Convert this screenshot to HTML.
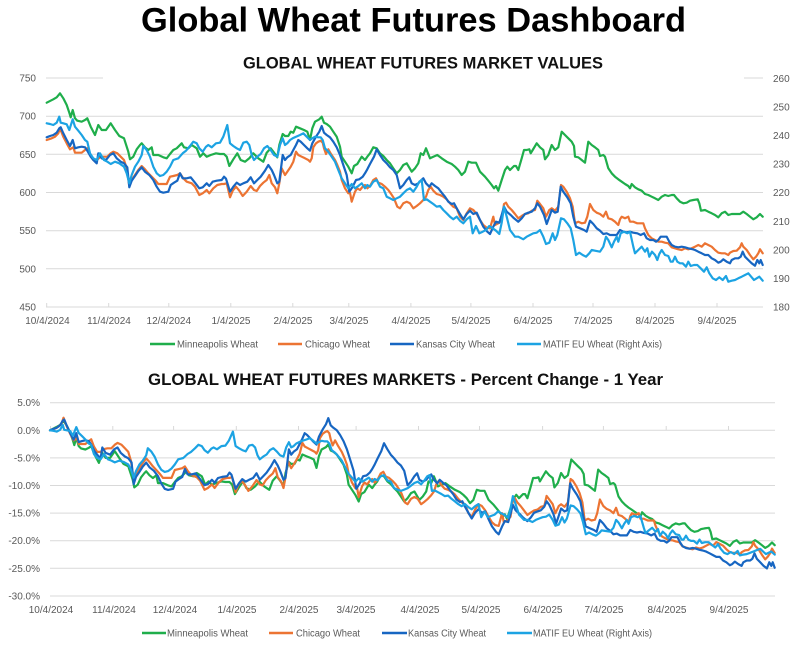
<!DOCTYPE html>
<html>
<head>
<meta charset="utf-8">
<style>
html,body{margin:0;padding:0;background:#fff;}
svg{display:block;}
text{font-family:"Liberation Sans",Arial,sans-serif;}
.ax{font-size:10px;fill:#595959;}
.lg{font-size:10px;fill:#595959;}
.grid{stroke:#d9d9d9;stroke-width:1;}
</style>
</head>
<body>
<svg width="812" height="646" viewBox="0 0 812 646">
<rect x="0" y="0" width="812" height="646" fill="#fff"/>

<!-- Main title -->
<text x="141" y="31.5" font-size="34.5" font-weight="bold" fill="#000" textLength="545" lengthAdjust="spacingAndGlyphs">Global Wheat Futures Dashboard</text>

<!-- ===== TOP CHART ===== -->
<g class="grid">
<line x1="46" y1="78" x2="763" y2="78"/>
<line x1="46" y1="116.2" x2="763" y2="116.2"/>
<line x1="46" y1="154.3" x2="763" y2="154.3"/>
<line x1="46" y1="192.5" x2="763" y2="192.5"/>
<line x1="46" y1="230.7" x2="763" y2="230.7"/>
<line x1="46" y1="268.8" x2="763" y2="268.8"/>
<line x1="46" y1="307" x2="763" y2="307"/>
</g>
<rect x="103" y="72" width="641" height="10" fill="#fff"/>
<text x="243" y="68.5" font-size="16.3" font-weight="bold" fill="#111" textLength="360" lengthAdjust="spacingAndGlyphs">GLOBAL WHEAT FUTURES MARKET VALUES</text>

<g stroke="#d9d9d9" stroke-width="1">
<line x1="46.7" y1="303" x2="46.7" y2="307"/>
<line x1="108.7" y1="303" x2="108.7" y2="307"/>
<line x1="168.8" y1="303" x2="168.8" y2="307"/>
<line x1="230.8" y1="303" x2="230.8" y2="307"/>
<line x1="292.8" y1="303" x2="292.8" y2="307"/>
<line x1="348.8" y1="303" x2="348.8" y2="307"/>
<line x1="410.9" y1="303" x2="410.9" y2="307"/>
<line x1="470.9" y1="303" x2="470.9" y2="307"/>
<line x1="533" y1="303" x2="533" y2="307"/>
<line x1="593" y1="303" x2="593" y2="307"/>
<line x1="655" y1="303" x2="655" y2="307"/>
<line x1="717" y1="303" x2="717" y2="307"/>
</g>

<g class="ax" text-anchor="end">
<text x="36" y="81.5">750</text>
<text x="36" y="119.7">700</text>
<text x="36" y="157.8">650</text>
<text x="36" y="196">600</text>
<text x="36" y="234.2">550</text>
<text x="36" y="272.3">500</text>
<text x="36" y="310.5">450</text>
</g>
<g class="ax" text-anchor="start">
<text x="773" y="81.8">260</text>
<text x="773" y="110.4">250</text>
<text x="773" y="139">240</text>
<text x="773" y="167.6">230</text>
<text x="773" y="196.2">220</text>
<text x="773" y="224.8">210</text>
<text x="773" y="253.4">200</text>
<text x="773" y="282">190</text>
<text x="773" y="310.6">180</text>
</g>
<g class="ax" text-anchor="middle">
<text x="47.5" y="324">10/4/2024</text>
<text x="109" y="324">11/4/2024</text>
<text x="168.8" y="324">12/4/2024</text>
<text x="231" y="324">1/4/2025</text>
<text x="293" y="324">2/4/2025</text>
<text x="349" y="324">3/4/2025</text>
<text x="411" y="324">4/4/2025</text>
<text x="471" y="324">5/4/2025</text>
<text x="533" y="324">6/4/2025</text>
<text x="593" y="324">7/4/2025</text>
<text x="655" y="324">8/4/2025</text>
<text x="717" y="324">9/4/2025</text>
</g>

<g id="gTop" fill="none" stroke-width="2.2" stroke-linejoin="round" stroke-linecap="round"></g>

<!-- top legend -->
<g stroke-width="2.4">
<line x1="150" y1="344" x2="175" y2="344" stroke="#1fae4b"/>
<line x1="278" y1="344" x2="302" y2="344" stroke="#ec7433"/>
<line x1="390" y1="344" x2="414" y2="344" stroke="#1766c2"/>
<line x1="517" y1="344" x2="541" y2="344" stroke="#1ca3e3"/>
</g>
<g class="lg">
<text x="177" y="347.5" textLength="81" lengthAdjust="spacingAndGlyphs">Minneapolis Wheat</text>
<text x="305" y="347.5" textLength="65" lengthAdjust="spacingAndGlyphs">Chicago Wheat</text>
<text x="416" y="347.5" textLength="79" lengthAdjust="spacingAndGlyphs">Kansas City Wheat</text>
<text x="543" y="347.5" textLength="119" lengthAdjust="spacingAndGlyphs">MATIF EU Wheat (Right Axis)</text>
</g>

<!-- ===== BOTTOM CHART ===== -->
<text x="148" y="385" font-size="16.3" font-weight="bold" fill="#111" textLength="515" lengthAdjust="spacingAndGlyphs">GLOBAL WHEAT FUTURES MARKETS - Percent Change - 1 Year</text>
<g class="grid">
<line x1="50" y1="402.7" x2="775" y2="402.7"/>
<line x1="50" y1="430.3" x2="775" y2="430.3"/>
<line x1="50" y1="457.9" x2="775" y2="457.9"/>
<line x1="50" y1="485.5" x2="775" y2="485.5"/>
<line x1="50" y1="513.1" x2="775" y2="513.1"/>
<line x1="50" y1="540.7" x2="775" y2="540.7"/>
<line x1="50" y1="568.3" x2="775" y2="568.3"/>
<line x1="50" y1="596" x2="775" y2="596"/>
</g>
<g stroke="#d9d9d9" stroke-width="1">
<line x1="50.5" y1="426" x2="50.5" y2="430.3"/>
<line x1="112.8" y1="426" x2="112.8" y2="430.3"/>
<line x1="173.6" y1="426" x2="173.6" y2="430.3"/>
<line x1="236.3" y1="426" x2="236.3" y2="430.3"/>
<line x1="298.5" y1="426" x2="298.5" y2="430.3"/>
<line x1="356.1" y1="426" x2="356.1" y2="430.3"/>
<line x1="418.5" y1="426" x2="418.5" y2="430.3"/>
<line x1="479.5" y1="426" x2="479.5" y2="430.3"/>
<line x1="542.6" y1="426" x2="542.6" y2="430.3"/>
<line x1="603.4" y1="426" x2="603.4" y2="430.3"/>
<line x1="666.2" y1="426" x2="666.2" y2="430.3"/>
<line x1="728.5" y1="426" x2="728.5" y2="430.3"/>
</g>
<g class="ax" text-anchor="end">
<text x="40" y="406.2">5.0%</text>
<text x="40" y="433.8">0.0%</text>
<text x="40" y="461.4">-5.0%</text>
<text x="40" y="489">-10.0%</text>
<text x="40" y="516.6">-15.0%</text>
<text x="40" y="544.2">-20.0%</text>
<text x="40" y="571.8">-25.0%</text>
<text x="40" y="599.5">-30.0%</text>
</g>
<g class="ax" text-anchor="middle">
<text x="51" y="613">10/4/2024</text>
<text x="114" y="613">11/4/2024</text>
<text x="175" y="613">12/4/2024</text>
<text x="237" y="613">1/4/2025</text>
<text x="299" y="613">2/4/2025</text>
<text x="356" y="613">3/4/2025</text>
<text x="420" y="613">4/4/2025</text>
<text x="481" y="613">5/4/2025</text>
<text x="543" y="613">6/4/2025</text>
<text x="604" y="613">7/4/2025</text>
<text x="667" y="613">8/4/2025</text>
<text x="729" y="613">9/4/2025</text>
</g>

<g id="gBot" fill="none" stroke-width="2.2" stroke-linejoin="round" stroke-linecap="round"></g>

<!-- bottom legend -->
<g stroke-width="2.4">
<line x1="142" y1="633" x2="166" y2="633" stroke="#1fae4b"/>
<line x1="269" y1="633" x2="293" y2="633" stroke="#ec7433"/>
<line x1="382" y1="633" x2="407" y2="633" stroke="#1766c2"/>
<line x1="507" y1="633" x2="532" y2="633" stroke="#1ca3e3"/>
</g>
<g class="lg">
<text x="167" y="636.5" textLength="81" lengthAdjust="spacingAndGlyphs">Minneapolis Wheat</text>
<text x="296" y="636.5" textLength="64" lengthAdjust="spacingAndGlyphs">Chicago Wheat</text>
<text x="408" y="636.5" textLength="78" lengthAdjust="spacingAndGlyphs">Kansas City Wheat</text>
<text x="533" y="636.5" textLength="119" lengthAdjust="spacingAndGlyphs">MATIF EU Wheat (Right Axis)</text>
</g>
</svg>

<script>
var G1=[[140,128],[160,118],[170,112],[180,100],[190,115],[200,135],[208,158],[212,172],[218,150],[225,175],[232,182],[245,185],[255,180],[262,175],[272,200],[285,225],[295,195],[305,210],[318,210],[332,190],[345,210],[358,228],[372,235],[385,275],[390,298],[400,290],[410,268],[420,255],[425,250],[435,262],[445,270],[455,262],[460,285],[475,285],[490,292],[500,295],[510,282],[520,270],[530,265],[545,250],[552,262],[565,265],[575,255],[590,265],[600,290],[610,280],[620,290],[632,285],[648,280],[660,282],[672,282],[680,290],[688,318],[700,298],[712,280],[722,300],[735,305],[748,295],[760,280],[775,295],[790,305],[800,278],[812,265],[820,275],[832,292],[838,255],[848,222],[855,228],[865,228],[872,215],[880,218],[888,200],[900,205],[912,210],[922,215],[930,240],[937,205],[945,185],[958,178],[965,170],[972,188],[980,192],[990,200],[1000,215],[1010,230],[1020,260],[1025,290],[1035,305],[1045,320],[1055,340],[1062,318],[1072,312],[1085,290],[1095,300],[1102,290],[1110,280],[1120,262],[1130,265],[1140,280],[1150,288],[1160,300],[1170,310],[1180,325],[1190,340],[1200,330]];
var G2=[[10,315],[20,310],[35,335],[45,325],[55,310],[62,280],[70,285],[78,265],[90,295],[100,290],[112,285],[125,295],[140,305],[155,312],[165,320],[175,330],[185,345],[195,335],[205,305],[215,308],[228,308],[240,335],[255,350],[265,362],[275,375],[282,385],[288,378],[295,392],[305,360],[315,330],[322,320],[330,330],[342,318],[348,318],[355,330],[365,295],[372,270],[380,270],[388,268],[392,280],[398,270],[410,250],[420,262],[430,270],[435,298],[445,285],[455,255],[465,270],[475,262],[485,215],[495,225],[505,235],[515,245],[522,258],[525,290],[535,292],[545,300],[555,308],[565,245],[575,255],[585,262],[595,270],[600,288],[610,285],[615,290],[625,325],[635,340],[645,350],[655,358],[665,365],[675,372],[685,378],[690,385],[695,372],[705,382],[715,388],[725,392],[735,402],[745,405],[755,410],[765,415],[775,420],[785,410],[795,405],[805,408],[815,405],[822,405],[830,415],[840,425],[850,430],[860,428],[870,422],[880,420],[893,418],[898,430],[903,452],[915,450],[925,455],[935,460],[945,465],[955,472],[965,460],[975,455],[985,465],[995,462],[1010,462],[1020,462],[1030,455],[1040,462],[1050,470],[1060,478],[1070,472],[1080,462],[1088,470]];
var O1=[[140,240],[155,235],[165,230],[175,220],[180,205],[190,230],[200,250],[210,268],[220,262],[225,278],[235,278],[245,278],[255,270],[262,265],[270,285],[280,300],[290,300],[300,292],[310,290],[322,290],[332,280],[340,275],[352,280],[362,290],[372,300],[380,325],[388,378],[395,360],[405,345],[415,330],[425,318],[435,328],[445,340],[455,350],[465,360],[475,372],[485,372],[500,372],[510,350],[520,348],[532,345],[540,340],[550,355],[560,365],[575,370],[585,380],[598,405],[608,400],[620,390],[628,400],[640,385],[652,375],[665,372],[672,372],[680,370],[690,412],[698,392],[708,380],[718,392],[728,408],[740,395],[752,378],[762,390],[770,393],[780,378],[790,368],[800,360],[808,345],[815,370],[825,382],[832,400],[838,370],[845,325],[855,345],[862,335],[872,320],[880,305],[888,275],[895,285],[905,290],[915,295],[925,300],[930,305],[935,295],[940,262],[948,250],[955,245],[962,242],[968,248],[972,265],[978,282],[985,268],[993,282],[1005,300],[1012,315],[1020,335],[1025,360],[1035,385],[1045,400],[1050,398],[1055,425],[1065,395],[1072,385],[1080,390],[1088,380],[1095,375],[1102,385],[1110,378],[1120,360],[1128,355],[1135,368],[1145,372],[1155,380],[1165,390],[1172,400],[1182,415],[1192,440],[1200,445]];
var O2=[[10,430],[20,425],[30,430],[40,445],[50,438],[60,430],[70,420],[78,410],[85,390],[92,380],[100,392],[110,402],[120,405],[130,410],[140,418],[150,430],[160,440],[170,445],[180,470],[190,480],[200,460],[210,445],[220,450],[230,462],[240,480],[250,495],[260,503],[270,505],[280,470],[285,495],[295,490],[305,480],[312,432],[318,428],[325,440],[335,450],[345,462],[355,475],[365,468],[375,462],[385,460],[395,452],[405,450],[412,422],[420,432],[430,445],[438,470],[448,450],[455,445],[465,452],[475,440],[483,375],[490,380],[500,395],[510,415],[518,440],[525,490],[535,485],[545,490],[555,488],[562,470],[570,432],[580,450],[590,458],[600,462],[610,470],[618,455],[625,475],[635,478],[645,485],[655,495],[660,478],[665,470],[675,475],[685,470],[690,485],[700,485],[712,490],[720,490],[730,490],[735,505],[745,525],[755,535],[765,540],[775,545],[785,545],[795,548],[805,550],[815,562],[825,565],[835,568],[845,570],[855,565],[865,568],[875,565],[885,560],[895,555],[905,560],[915,550],[925,555],[935,560],[945,570],[955,578],[965,580],[975,580],[985,585],[990,578],[1000,573],[1010,572],[1020,562],[1025,550],[1030,560],[1040,570],[1050,585],[1060,598],[1068,590],[1075,580],[1080,568],[1088,580]];
var K1=[[140,232],[150,228],[160,225],[170,218],[178,205],[182,202],[190,220],[200,240],[210,258],[218,240],[225,265],[235,262],[245,260],[255,262],[262,272],[272,290],[280,300],[290,310],[295,280],[305,295],[318,300],[330,285],[340,280],[350,295],[362,305],[372,310],[382,322],[388,382],[395,362],[405,348],[415,333],[425,322],[435,335],[448,345],[460,360],[470,380],[480,395],[490,398],[505,395],[512,375],[522,368],[532,362],[540,340],[548,355],[560,355],[572,352],[585,368],[598,385],[608,382],[620,370],[628,378],[638,365],[650,362],[665,360],[672,350],[678,356],[690,395],[700,380],[710,368],[720,375],[730,370],[742,365],[752,352],[762,370],[772,360],[782,350],[795,332],[805,315],[815,330],[822,345],[832,370],[838,365],[848,285],[855,300],[862,292],[872,285],[880,270],[888,255],[895,240],[902,245],[912,255],[922,265],[930,272],[937,250],[948,230],[958,215],[965,198],[972,218],[980,225],[990,232],[1000,245],[1010,262],[1020,285],[1030,315],[1040,345],[1048,395],[1058,380],[1068,360],[1078,358],[1088,350],[1095,340],[1102,328],[1110,312],[1122,290],[1130,268],[1140,285],[1150,300],[1160,310],[1170,322],[1180,330],[1190,345],[1200,385]];
var K2=[[10,375],[20,360],[28,352],[35,370],[45,375],[55,370],[62,362],[70,355],[78,370],[88,380],[95,370],[105,378],[115,385],[125,398],[135,410],[145,425],[155,432],[162,430],[170,445],[180,462],[190,478],[200,462],[210,452],[220,462],[230,458],[240,480],[250,500],[262,515],[270,522],[280,500],[288,485],[298,488],[305,465],[312,440],[320,455],[332,465],[342,475],[355,485],[365,475],[375,462],[385,458],[395,455],[405,445],[412,430],[420,440],[432,465],[440,492],[448,470],[455,450],[465,458],[473,455],[482,380],[490,395],[502,412],[512,430],[520,470],[528,500],[540,505],[552,510],[560,515],[570,482],[580,492],[590,505],[600,512],[610,522],[620,520],[630,525],[640,525],[650,525],[660,510],[670,515],[680,517],[690,515],[700,518],[712,520],[722,525],[732,520],[740,535],[750,540],[760,540],[768,545],[775,540],[782,530],[790,530],[800,530],[808,545],[815,555],[825,560],[835,562],[845,560],[855,562],[865,565],[875,567],[885,570],[895,575],[905,580],[915,585],[925,585],[935,595],[945,600],[955,608],[962,605],[970,598],[980,605],[990,610],[995,600],[1005,595],[1015,595],[1022,590],[1028,575],[1035,590],[1045,600],[1055,610],[1065,617],[1072,600],[1078,610],[1082,600],[1088,615]];
var M1=[[140,190],[150,192],[160,195],[170,188],[178,170],[182,188],[190,190],[200,193],[208,210],[218,178],[225,200],[235,212],[245,225],[255,240],[262,245],[270,280],[280,295],[290,300],[300,280],[312,300],[322,305],[332,312],[345,305],[358,310],[372,320],[380,340],[388,370],[395,345],[405,320],[415,305],[425,285],[430,258],[440,270],[450,290],[460,320],[470,340],[480,348],[490,345],[500,335],[510,320],[520,300],[535,295],[548,280],[558,272],[570,258],[580,245],[590,250],[598,265],[608,275],[618,260],[625,255],[635,262],[648,250],[660,248],[670,230],[682,195],[690,250],[700,258],[710,265],[720,270],[730,248],[740,245],[748,255],[755,285],[762,300],[772,290],[782,282],[792,265],[802,258],[812,270],[822,285],[832,290],[840,255],[848,235],[855,255],[862,250],[870,240],[878,235],[888,230],[900,225],[910,220],[920,230],[930,240],[937,235],[945,230],[955,232],[962,232],[968,240],[975,265],[985,275],[995,290],[1005,305],[1015,330],[1025,355],[1035,370],[1045,385],[1055,372],[1065,385],[1075,378],[1085,370],[1095,385],[1102,375],[1110,380],[1120,365],[1130,360],[1140,380],[1150,385],[1160,410],[1170,415],[1180,420],[1190,415],[1200,410]];
var M2=[[10,400],[20,390],[30,385],[40,395],[50,380],[58,365],[65,360],[72,420],[80,418],[90,425],[100,432],[110,440],[120,438],[130,450],[140,460],[150,470],[160,478],[170,470],[180,482],[190,490],[200,478],[210,470],[218,520],[228,498],[238,520],[248,515],[258,510],[268,498],[278,505],[288,512],[298,522],[305,488],[312,440],[320,470],[330,510],[345,530],[355,530],[370,538],[380,530],[390,525],[400,520],[410,518],[420,510],[430,530],[438,552],[448,548],[458,520],[465,540],[472,525],[483,475],[492,478],[502,490],[512,505],[520,540],[528,585],[538,578],[548,585],[558,590],[568,580],[575,570],[585,572],[600,575],[610,560],[618,530],[625,540],[635,562],[642,545],[650,530],[655,545],[662,520],[672,515],[682,520],[690,515],[700,560],[705,580],[715,570],[725,560],[735,575],[742,565],[748,590],[756,575],[765,585],[772,600],[778,582],[785,570],[795,585],[805,588],[812,605],[818,605],[825,590],[832,605],[840,610],[848,610],[858,620],[865,605],[872,618],[882,615],[892,615],[902,625],[912,635],[920,622],[928,640],[938,655],[948,660],[958,652],[968,660],[978,648],[985,665],[995,662],[1005,660],[1015,655],[1025,650],[1035,645],[1045,640],[1055,652],[1062,660],[1070,655],[1078,650],[1088,662]];

function join(a,b){return a.concat(b.map(function(p){return [p[0]+1200,p[1]];}));}
function pl(pts,color){
  return '<polyline stroke="'+color+'" points="'+pts.map(function(q){return q[0].toFixed(1)+','+q[1].toFixed(1);}).join(' ')+'"/>';
}
var series=[[join(G1,G2),'#1fae4b',false],[join(O1,O2),'#ec7433',false],[join(K1,K2),'#1766c2',false],[join(M1,M2),'#1ca3e3',true]];
var topHTML='',botHTML='';
series.forEach(function(s){
  var top=s[0].map(function(p){return [p[0]/3, 60+p[1]/3];});
  topHTML+=pl(top,s[1]);
  var val=top.map(function(p){var v=750-(p[1]-78)*50/38.1667; if(s[2]) v=180+(v-450)*80/300; return v;});
  var bot=top.map(function(p,i){return [50+(p[0]-46.67)*725/716.3, 430.3-(val[i]/val[0]-1)*100*27.614/5];});
  botHTML+=pl(bot,s[1]);
});
document.getElementById('gTop').innerHTML=topHTML;
document.getElementById('gBot').innerHTML=botHTML;
</script>
</body>
</html>
